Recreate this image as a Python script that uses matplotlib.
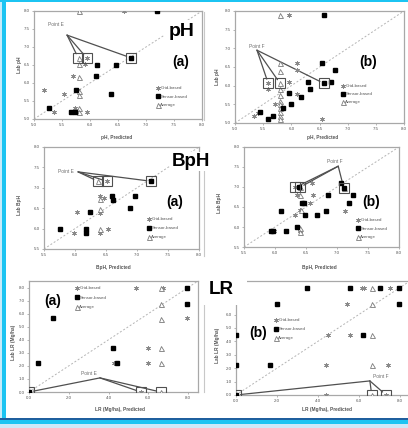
import matplotlib
matplotlib.use('Agg')
import matplotlib.pyplot as plt
from matplotlib.patches import Rectangle
from matplotlib.lines import Line2D

plt.rcParams['font.family'] = ['Liberation Sans', 'DejaVu Sans']

# ---- data ----
# pH (a)
pha_grid_x = [6.60, 5.94, 5.91, 5.69, 5.18, 5.53, 5.36, 5.73, 5.95, 5.78]
pha_grid_y = [8.00, 6.70, 6.54, 6.20, 5.80, 5.70, 5.20, 5.30, 5.20, 5.80]
pha_sens_x = [7.20, 6.73, 6.12, 6.46, 6.10, 5.75, 6.37, 5.27, 5.66, 5.73]
pha_sens_y = [8.00, 6.70, 6.50, 6.50, 6.20, 5.80, 5.70, 5.30, 5.20, 5.20]
pha_avg_x = [5.80, 5.80, 5.80, 5.80, 5.80, 5.80, 5.80, 5.80]
pha_avg_y = [8.00, 6.70, 6.54, 6.17, 5.78, 5.67, 5.30, 5.20]
pha_box_x = [5.79, 5.94, 6.73]
pha_box_y = [6.70, 6.70, 6.70]

# pH (b)
phb_grid_x = [5.96, 5.59, 5.59, 6.10, 6.10, 5.95, 6.10, 5.71, 5.33, 6.54, 5.40]
phb_grid_y = [7.90, 6.06, 5.90, 6.62, 6.42, 6.11, 5.79, 5.50, 5.20, 5.10, 5.28]
phb_sens_x = [6.58, 6.58, 6.70, 6.54, 6.78, 6.30, 6.33, 5.95, 6.18, 5.99, 5.86, 5.68, 5.58, 5.44]
phb_sens_y = [7.90, 6.06, 6.10, 6.62, 6.42, 6.11, 5.90, 5.81, 5.70, 5.50, 5.39, 5.20, 5.10, 5.30]
phb_avg_x = [5.80] * 12
phb_avg_y = [7.90, 6.62, 6.40, 6.06, 5.90, 5.75, 5.60, 5.50, 5.40, 5.30, 5.20, 5.10]
phb_box_x = [5.59, 5.80, 6.58]
phb_box_y = [6.06, 6.06, 6.06]

# BpH (a)
bpa_grid_x = [6.51, 6.40, 6.46, 6.03, 6.41, 5.98, 6.40, 6.53]
bpa_grid_y = [7.16, 6.80, 6.75, 6.40, 6.39, 5.90, 5.90, 6.00]
bpa_sens_x = [7.23, 6.60, 6.62, 6.96, 6.89, 6.24, 5.76, 6.17, 6.17]
bpa_sens_y = [7.16, 6.80, 6.70, 6.80, 6.50, 6.40, 6.00, 6.00, 5.90]
bpa_avg_x = [6.37, 6.40, 6.41, 6.40]
bpa_avg_y = [7.16, 6.72, 6.48, 6.00]
bpa_box_x = [6.37, 6.51, 7.23]
bpa_box_y = [7.16, 7.16, 7.16]

# BpH (b)
bpb_grid_x = [6.33, 6.60, 6.35, 6.61, 6.57, 7.13, 6.40, 6.32, 5.99, 6.40]
bpb_grid_y = [6.99, 7.10, 6.81, 6.79, 6.60, 6.40, 6.42, 6.30, 5.90, 5.90]
bpb_sens_x = [7.11, 7.07, 6.38, 6.85, 7.26, 7.20, 6.44, 6.47, 6.09, 6.82, 6.49, 6.68, 5.93, 5.96, 6.18, 6.35]
bpb_sens_y = [6.97, 7.10, 7.00, 6.79, 6.80, 6.60, 6.60, 6.60, 6.40, 6.40, 6.30, 6.30, 5.90, 5.90, 5.90, 6.00]
bpb_avg_x = [6.40, 7.12, 6.40, 6.42, 6.40, 6.40]
bpb_avg_y = [6.99, 6.97, 6.80, 6.42, 5.98, 5.88]
bpb_box_x = [6.33, 6.40, 7.11]
bpb_box_y = [6.99, 6.99, 6.97]

# LR (a)
lra_grid_x = [5.37, 6.73, 7.95, 6.00, 4.28, 6.00, 5.62]
lra_grid_y = [7.95, 7.95, 5.69, 3.38, 2.23, 2.23, 0.00]
lra_sens_x = [7.95, 7.95, 1.23, 4.20, 0.45, 4.45, 0.00]
lra_sens_y = [7.95, 6.77, 5.69, 3.38, 2.23, 2.23, 0.00]
lra_avg_x = [6.62, 6.62, 6.62, 6.62, 6.62, 6.62]
lra_avg_y = [7.95, 6.77, 5.62, 3.38, 2.23, 0.00]
lra_box_x = [0.00, 5.62, 6.62]
lra_box_y = [0.00, 0.00, 0.00]

# LR (b)
lrb_grid_x = [6.15, 6.25, 7.52, 5.42, 4.50, 5.58, 4.42, 7.44, 4.42, 7.33]
lrb_grid_y = [7.95, 7.95, 7.95, 6.77, 4.50, 4.50, 2.25, 2.25, 0.00, 0.00]
lrb_sens_x = [3.45, 5.58, 7.04, 7.98, 1.99, 7.98, 0.00, 6.18, 0.00, 1.65, 0.00]
lrb_sens_y = [7.95, 7.95, 7.95, 7.95, 6.77, 6.77, 4.50, 4.50, 2.25, 2.25, 0.00]
lrb_avg_x = [6.63, 6.63, 6.63, 6.63, 6.63]
lrb_avg_y = [7.95, 6.77, 4.45, 2.25, 0.00]
lrb_box_x = [0.00, 6.63, 7.33]
lrb_box_y = [0.00, 0.00, 0.00]

legend_labels = ['Grid-based', 'Sensor-based', 'Average']

W, H = 408, 428
fig = plt.figure(figsize=(W / 100, H / 100), dpi=100)
fig.patch.set_facecolor('white')


def fx(x):
    return x / W


def fy(y):
    return 1 - y / H


def rect(x0, y0, x1, y1, color, z=10):
    fig.add_artist(Rectangle((fx(x0), fy(y1)), (x1 - x0) / W, (y1 - y0) / H,
                             transform=fig.transFigure, facecolor=color,
                             edgecolor='none', zorder=z))


def vline(x, y0, y1):
    fig.add_artist(Line2D([fx(x), fx(x)], [fy(y0), fy(y1)], transform=fig.transFigure,
                          color='#c8c8c8', lw=0.8, zorder=1))


GRID = dict(marker=(6, 2, 0), ls='none', color='#8a8a8a', ms=3.3, mew=0.6)
SENS = dict(marker='s', ls='none', color='black', ms=3.4)
AVG = dict(marker='^', ls='none', mfc='white', mec='#7a7a7a', ms=3.6, mew=0.6)


def panel(box, xlim, ylim, xt, yt, grid, sens, avg, boxed, apex, ptext, ptext_xy,
          tag, tag_xy, leg_xy, leg_sp, xlabel, xlab_xy, ylabel, ylab_xy, ymax_lab=None):
    x0, y0, x1, y1 = box
    ax = fig.add_axes([fx(x0), fy(y1), (x1 - x0) / W, (y1 - y0) / H])
    ax.set_xlim(xlim)
    ax.set_ylim(ylim)
    ax.set_xticks(xt)
    ax.set_yticks(yt)
    ax.set_xticklabels(['%.1f' % v for v in xt])
    ax.set_yticklabels(['%.1f' % v if ymax_lab is None or v <= ymax_lab else '' for v in yt])
    ax.tick_params(labelsize=3.2, labelcolor='#555555', color='#9a9a9a',
                   length=1.5, width=0.5, pad=1.5)
    for s in ax.spines.values():
        s.set_color('#a8a8a8')
        s.set_linewidth(0.9)
    lo, hi = xlim[0], max(xlim[1], ylim[1])
    ax.plot([lo, hi], [lo, hi], color='#b4b4b4', ls=(0, (2, 2)), lw=0.7, zorder=1)
    for tx, ty in zip(*boxed):
        ax.annotate('', xy=(tx, ty), xytext=apex,
                    arrowprops=dict(arrowstyle='-', color='#505050', lw=0.9,
                                    shrinkA=0, shrinkB=3.3), zorder=2)
    g, = ax.plot(grid[0], grid[1], zorder=3, **GRID)
    s, = ax.plot(sens[0], sens[1], zorder=4, **SENS)
    a, = ax.plot(avg[0], avg[1], zorder=3, **AVG)
    ax.plot(boxed[0], boxed[1], marker='s', ls='none', mfc='none', mec='#505050',
            ms=6.5, mew=0.8, zorder=5)
    ax.text(ptext_xy[0], ptext_xy[1], ptext, fontsize=3.5, color='#707070',
            ha='center', va='center')
    ax.legend([g, s, a], legend_labels, loc='upper left',
              bbox_to_anchor=(fx(leg_xy[0]), fy(leg_xy[1])), bbox_transform=fig.transFigure,
              frameon=False, fontsize=3.2, handlelength=0.7, handletextpad=0.3,
              labelspacing=leg_sp, borderpad=0, borderaxespad=0, labelcolor='#555555')
    fig.text(fx(tag_xy[0]), fy(tag_xy[1]), tag, fontsize=10, fontweight='bold',
             ha='center', va='center')
    fig.text(fx(xlab_xy[0]), fy(xlab_xy[1]), xlabel, fontsize=3.4, fontweight='bold',
             color='#555555', ha='center', va='center')
    fig.text(fx(ylab_xy[0]), fy(ylab_xy[1]), ylabel, fontsize=3.4, fontweight='bold',
             color='#555555', ha='center', va='center', rotation=90)
    return ax


ph_t = [5.0, 5.5, 6.0, 6.5, 7.0, 7.5, 8.0]
bp_t = [5.5, 6.0, 6.5, 7.0, 7.5, 8.0]
lr_xt = [0.0, 2.0, 4.0, 6.0, 8.0]
lr_yt = [0.0, 1.0, 2.0, 3.0, 4.0, 5.0, 6.0, 7.0, 8.0]

panel((34, 11, 202, 119), (5, 8), (5, 8), ph_t, ph_t,
      (pha_grid_x, pha_grid_y), (pha_sens_x, pha_sens_y), (pha_avg_x, pha_avg_y),
      (pha_box_x, pha_box_y), (5.59, 7.33), 'Point E', (5.40, 7.62),
      '(a)', (181, 62), (156, 86), 1.0, 'pH, Predicted', (117, 137), 'Lab pH', (19, 65))

panel((235, 11, 404, 123), (5, 8), (5, 8), ph_t, ph_t,
      (phb_grid_x, phb_grid_y), (phb_sens_x, phb_sens_y), (phb_avg_x, phb_avg_y),
      (phb_box_x, phb_box_y), (5.39, 6.95), 'Point F', (5.38, 7.05),
      '(b)', (368, 62), (341, 84), 0.9, 'pH, Predicted', (323, 137), 'Lab pH', (217, 77))

panel((44, 147, 199, 249), (5.5, 8), (5.5, 8), bp_t, bp_t,
      (bpa_grid_x, bpa_grid_y), (bpa_sens_x, bpa_sens_y), (bpa_avg_x, bpa_avg_y),
      (bpa_box_x, bpa_box_y), (6.05, 7.39), 'Point E', (5.86, 7.40),
      '(a)', (175, 202), (147, 217), 1.1, 'BpH, Predicted', (113, 267), 'Lab BpH', (20, 205))

panel((244, 147, 399, 247), (5.5, 8), (5.5, 8), bp_t, bp_t,
      (bpb_grid_x, bpb_grid_y), (bpb_sens_x, bpb_sens_y), (bpb_avg_x, bpb_avg_y),
      (bpb_box_x, bpb_box_y), (7.02, 7.52), 'Point F', (6.97, 7.63),
      '(b)', (371, 202), (356, 218), 1.0, 'BpH, Predicted', (319, 267), 'Lab BpH', (220, 203))

panel((29, 281, 198, 392), (0, 8.5), (0, 8.5), lr_xt, lr_yt,
      (lra_grid_x, lra_grid_y), (lra_sens_x, lra_sens_y), (lra_avg_x, lra_avg_y),
      (lra_box_x, lra_box_y), (3.57, 1.08), 'Point E', (3.0, 1.38),
      '(a)', (53, 301), (75, 286), 1.25, 'LR (Mg/ha), Predicted', (120, 410),
      'Lab LR (Mg/ha)', (13, 342))

# the upper labels of this panel sit under the "LR" patch
panel((236, 281, 410, 395), (0, 8.5), (0, 8.5), lr_xt, lr_yt,
      (lrb_grid_x, lrb_grid_y), (lrb_sens_x, lrb_sens_y), (lrb_avg_x, lrb_avg_y),
      (lrb_box_x, lrb_box_y), (6.54, 1.05), 'Point F', (7.05, 1.38),
      '(b)', (258, 333), (274, 318), 1.1, 'LR (Mg/ha), Predicted', (327, 410),
      'Lab LR (Mg/ha)', (218, 345), ymax_lab=6.0)

# faint chart-area edges between the columns
vline(204, 12, 120)
vline(204, 170, 256)
vline(204, 305, 392)

# big variable labels on white patches
rect(164, 20, 200, 42, 'white', z=10)
fig.text(fx(182), fy(31), 'pH', fontsize=14, fontweight='bold', ha='center', va='center', zorder=11)
rect(170, 152, 212, 171, 'white', z=10)
fig.text(fx(191), fy(161), 'BpH', fontsize=13.5, fontweight='bold', ha='center', va='center', zorder=11)
rect(204, 279.5, 247, 304.5, 'white', z=10)
fig.text(fx(221), fy(290), 'LR', fontsize=13.5, fontweight='bold', ha='center', va='center', zorder=11)

# slide frame
rect(0, 0, 1.5, 420, '#c6ebfa', z=12)
rect(1.5, 0, 6, 420, '#1cc4f2', z=12)
rect(0, 0, W, 2, '#1cc4f2', z=12)
rect(0, 418, W, 419.6, '#1f5f9e', z=12)
rect(0, 419.6, W, 423.5, '#1cc4f2', z=12)
rect(0, 423.5, W, H, '#cde9f8', z=12)

fig.savefig('out.png', dpi=100, facecolor=fig.get_facecolor())
